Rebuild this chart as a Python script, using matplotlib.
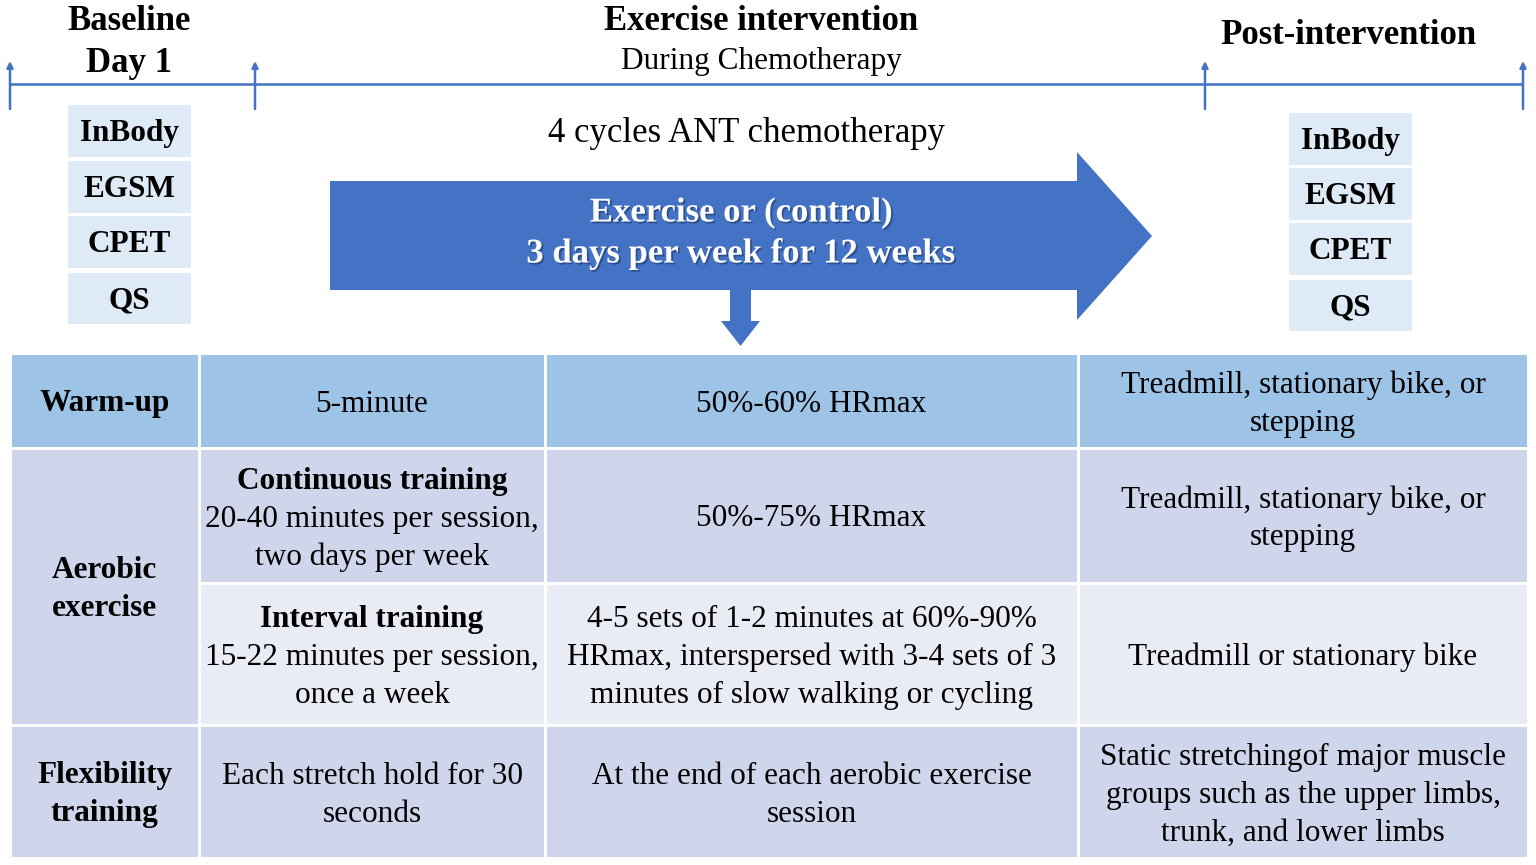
import matplotlib
matplotlib.use("Agg")
import matplotlib.pyplot as plt
import matplotlib.patheffects as pe
from matplotlib.patches import Rectangle, Polygon

plt.rcParams['font.family'] = ['Liberation Serif', 'DejaVu Serif']

# ---------------- content ----------------
phase_titles = [["Baseline", "Day 1"], ["Exercise intervention"], ["Post-intervention"]]
phase_subtitle = "During Chemotherapy"
assessments = ["InBody", "EGSM", "CPET", "QS"]
chemo_label = "4 cycles ANT chemotherapy"
arrow_lines = ["Exercise or (control)", "3 days per week for 12 weeks"]

row_labels = [["Warm-up"], ["Aerobic", "exercise"], ["Flexibility", "training"]]
# each cell: (bold heading or None, regular lines)
col_duration = [
    (None, ["5-minute"]),
    ("Continuous training", ["20-40 minutes per session,", "two days per week"]),
    ("Interval training", ["15-22 minutes per session,", "once a week"]),
    (None, ["Each stretch hold for 30", "seconds"]),
]
col_intensity = [
    ["50%-60% HRmax"],
    ["50%-75% HRmax"],
    ["4-5 sets of 1-2 minutes at 60%-90%", "HRmax, interspersed with 3-4 sets of 3",
     "minutes of slow walking or cycling"],
    ["At the end of each aerobic exercise", "session"],
]
col_mode = [
    ["Treadmill, stationary bike, or", "stepping"],
    ["Treadmill, stationary bike, or", "stepping"],
    ["Treadmill or stationary bike"],
    ["Static stretchingof major muscle", "groups such as the upper limbs,", "trunk, and lower limbs"],
]

BLUE = "#4472C4"
BOX = "#DEEBF7"
HEAD = "#9DC3E6"
BAND1 = "#CFD5EA"
BAND2 = "#E9EBF5"

fig = plt.figure(figsize=(15.36, 8.65), dpi=100)
ax = fig.add_axes([0, 0, 1, 1])
ax.set_xlim(0, 1536)
ax.set_ylim(865, 0)
ax.axis("off")

# ---------------- timeline ----------------
ax.plot([10, 1523], [84, 84], color=BLUE, lw=1.8, solid_capstyle="butt")
for tx in [10, 255, 1205, 1523]:
    ax.annotate("", xy=(tx, 61), xytext=(tx, 109),
                arrowprops=dict(arrowstyle="-|>", color=BLUE, lw=1.8,
                                mutation_scale=9, shrinkA=0, shrinkB=0))

TFS = 25
ax.text(129, 21, phase_titles[0][0], ha="center", va="center", fontsize=TFS, fontweight="bold")
ax.text(129, 63, phase_titles[0][1], ha="center", va="center", fontsize=TFS, fontweight="bold")
ax.text(761, 21, phase_titles[1][0], ha="center", va="center", fontsize=TFS, fontweight="bold")
ax.text(761, 61, phase_subtitle, ha="center", va="center", fontsize=22.5)
ax.text(1348, 35, phase_titles[2][0], ha="center", va="center", fontsize=TFS, fontweight="bold")

# ---------------- assessment boxes ----------------
left_rows = [(105, 157), (161, 213), (216, 268), (273, 324)]
right_rows = [(113, 165), (168, 220), (223, 275), (280, 331)]
for x0, x1, rows in [(68, 191, left_rows), (1289, 1412, right_rows)]:
    for name, (y0, y1) in zip(assessments, rows):
        ax.add_patch(Rectangle((x0, y0), x1 - x0, y1 - y0, facecolor=BOX, edgecolor="none"))
        ax.text((x0 + x1) / 2, (y0 + y1) / 2 + 2.5, name, ha="center", va="center",
                fontsize=22.5, fontweight="bold")

# ---------------- big arrow ----------------
ax.text(746, 134, chemo_label, ha="center", va="center", fontsize=25)
big = Polygon([(330, 181), (1077, 181), (1077, 152), (1152, 236), (1077, 320),
               (1077, 290), (330, 290)], closed=True, facecolor=BLUE, edgecolor="none")
ax.add_patch(big)
down = Polygon([(730, 290), (751, 290), (751, 321), (760, 321), (740.5, 346),
                (721, 321), (730, 321)], closed=True, facecolor=BLUE, edgecolor="none")
ax.add_patch(down)
for yy, line in zip([213, 254], arrow_lines):
    t = ax.text(741, yy, line, ha="center", va="center", fontsize=25,
                fontweight="bold", color="white")
    t.set_path_effects([pe.SimplePatchShadow(offset=(1.3, -1.3), shadow_rgbFace="#1f3a6e",
                                             alpha=0.6), pe.Normal()])

# ---------------- table ----------------
col_edges = [10, 199, 545, 1078, 1528]
row_edges = [353, 448, 583, 725, 858]
gap = 1.5
fills = [HEAD, BAND1, BAND2, BAND1]
LH = 38
FS = 22.5

def cell(x0, x1, y0, y1, color):
    ax.add_patch(Rectangle((x0 + gap, y0 + gap), x1 - x0 - 2 * gap, y1 - y0 - 2 * gap,
                           facecolor=color, edgecolor="none"))

def lines_at(xc, yc, lines, weights):
    n = len(lines)
    for i, (ln, w) in enumerate(zip(lines, weights)):
        ax.text(xc, yc + (i - (n - 1) / 2) * LH, ln, ha="center", va="center",
                fontsize=FS, fontweight=w)

# first column: warm-up, aerobic (spans 2 rows), flexibility
first_spans = [(0, 1), (1, 3), (3, 4)]
first_colors = [HEAD, BAND1, BAND1]
for (r0, r1), lab, colr in zip(first_spans, row_labels, first_colors):
    y0, y1 = row_edges[r0], row_edges[r1]
    cell(col_edges[0], col_edges[1], y0, y1, colr)
    lines_at((col_edges[0] + col_edges[1]) / 2, (y0 + y1) / 2 + 3.5, lab, ["bold"] * len(lab))

for r in range(4):
    y0, y1 = row_edges[r], row_edges[r + 1]
    yc = (y0 + y1) / 2 + 3.5
    for c in range(1, 4):
        cell(col_edges[c], col_edges[c + 1], y0, y1, fills[r])
    head, rest = col_duration[r]
    if head is None:
        lines_at((col_edges[1] + col_edges[2]) / 2, yc, rest, ["normal"] * len(rest))
    else:
        lines_at((col_edges[1] + col_edges[2]) / 2, yc, [head] + rest,
                 ["bold"] + ["normal"] * len(rest))
    lines_at((col_edges[2] + col_edges[3]) / 2, yc, col_intensity[r], ["normal"] * len(col_intensity[r]))
    lines_at((col_edges[3] + col_edges[4]) / 2, yc, col_mode[r], ["normal"] * len(col_mode[r]))

fig.savefig("out.png", dpi=100, facecolor="white")
